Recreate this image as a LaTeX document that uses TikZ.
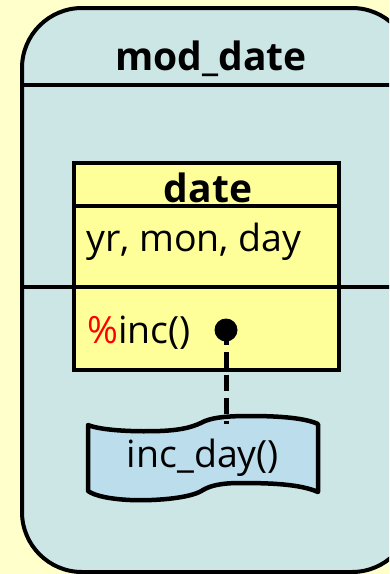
\documentclass[tikz,border=0pt]{standalone}
\usepackage{fontspec}
\setmainfont{Open Sans}
\definecolor{paper}{HTML}{FFFFCC}
\definecolor{modfill}{HTML}{CCE5E5}
\definecolor{classfill}{HTML}{FFFF99}
\definecolor{docfill}{HTML}{BCDDEB}
\tikzset{
  modframe/.style={draw=black, line width=4pt, fill=modfill, rounded corners=60pt},
  sepline/.style={draw=black, line width=3.6pt},
  classbox/.style={draw=black, line width=3.6pt, fill=classfill},
  label/.style={inner sep=0pt, font=\fontsize{37.5}{44}\selectfont},
  boldlabel/.style={inner sep=0pt, font=\fontsize{39}{46}\selectfont\bfseries},
  docshape/.style={draw=black, line width=4.5pt, fill=docfill, line join=round},
  link/.style={draw=black, line width=5pt, dash pattern=on 16pt off 7pt, dash phase=12pt}
}
\begin{document}
\begin{tikzpicture}[x=1pt, y=-1pt]
  \useasboundingbox (0,0) rectangle (389,574);
  \fill[paper] (0,0) rectangle (389,574);
  \begin{scope}
    \clip (0,0) rectangle (389,574);
    % package frame (runs past the right edge)
    \path[modframe] (22,8) rectangle (412,572);
    \draw[sepline] (22,85) -- (412,85);
    \node[boldlabel, anchor=base] (modname) at (211,70) {mod\_date};
    % class box
    \path[classbox] (74,163) rectangle (339,370);
    \draw[sepline] (74,206) -- (339,206);
    \draw[sepline] (22,287) -- (412,287);
    \node[boldlabel, anchor=base] (classname) at (208,202) {date};
    \node[label, anchor=base west] (attrs) at (86,251) {yr, mon, day};
    \node[label, anchor=base west] (ops) at (87,343) {\textcolor{red}{\%}inc()};
    \fill (226,330) circle (11.5pt);
    \coordinate (dot) at (226,341);
    % implementation note
    \path[docshape] (88,425)
      .. controls (100,430) and (130,432) .. (160,431)
      .. controls (185,430) and (195,426) .. (205,421)
      .. controls (215,417) and (230,416) .. (250,416)
      .. controls (280,416) and (305,418) .. (318,424)
      -- (318,492)
      .. controls (300,484) and (270,483) .. (240,483)
      .. controls (220,483) and (210,486) .. (203,490)
      .. controls (190,499) and (150,501) .. (130,500)
      .. controls (110,499) and (95,496) .. (88,491)
      -- cycle;
    \node[label] (impl) at (203,458) {inc\_day()};
    \coordinate (impltop) at (226,424);
    \draw[link] (dot) -- (impltop);
  \end{scope}
\end{tikzpicture}
\end{document}
